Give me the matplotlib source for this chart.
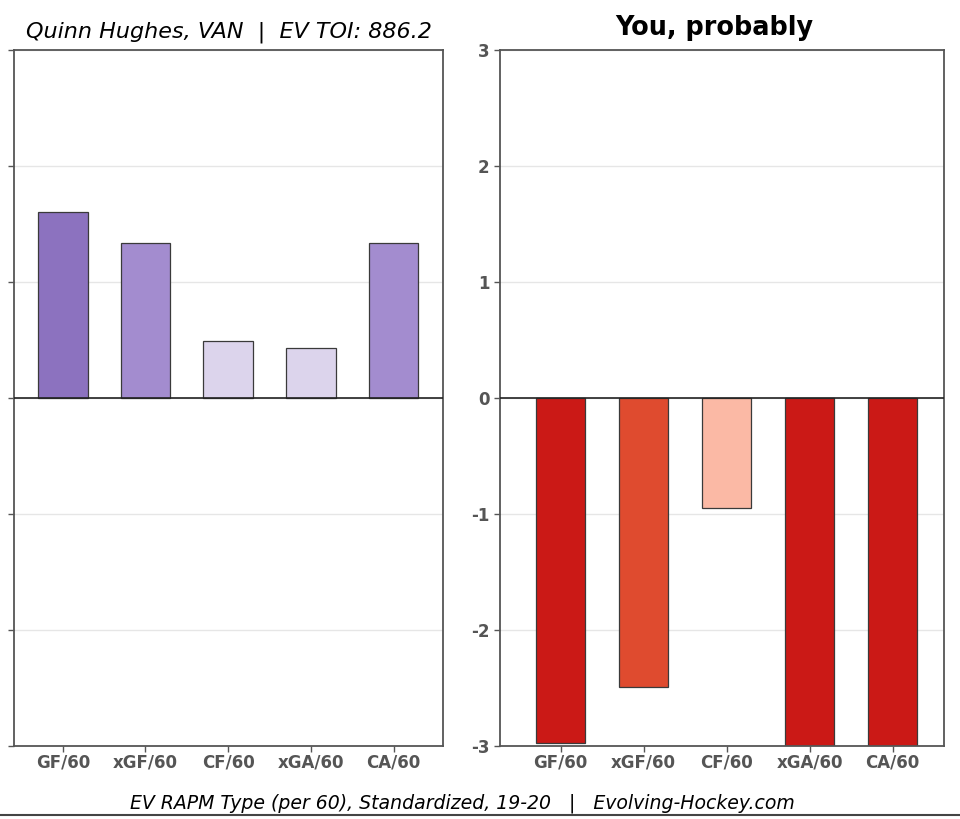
import matplotlib
matplotlib.use("Agg")
import matplotlib.pyplot as plt
from matplotlib.lines import Line2D

# --- DATA ---
metrics = ["GF/60", "xGF/60", "CF/60", "xGA/60", "CA/60"]
player_vals = [1.60, 1.34, 0.49, 0.43, 1.34]
you_vals = [-2.97, -2.49, -0.95, -3.2, -3.2]
player_colors = ["#8c72bf", "#a38ccf", "#dcd4ec", "#dcd4ec", "#a38ccf"]
you_colors = ["#cb1916", "#df4b2f", "#fbb9a5", "#cb1916", "#cb1916"]
y_ticks = [-3, -2, -1, 0, 1, 2, 3]

player_title = "Quinn Hughes, VAN  |  EV TOI: 886.2"
you_title = "You, probably"
footer = "EV RAPM Type (per 60), Standardized, 19-20   |   Evolving-Hockey.com"

SPINE = "#555555"
TICK = "#555555"

fig = plt.figure(figsize=(9.6, 8.19), dpi=100)
ax1 = fig.add_axes([0.0146, 0.0891, 0.447, 0.8498])
ax2 = fig.add_axes([0.5208, 0.0891, 0.4625, 0.8498])


def style(ax, xlim, show_y=True):
    ax.set_ylim(-3, 3)
    ax.set_xlim(*xlim)
    ax.set_yticks(y_ticks)
    # the left panel's y labels sit outside the cropped image
    ax.set_yticklabels([str(t) if show_y else "" for t in y_ticks])
    ax.set_xticks(range(len(metrics)))
    ax.set_xticklabels(metrics)
    ax.grid(axis="y", color="#e6e6e6", linewidth=1)
    ax.set_axisbelow(True)
    ax.axhline(0, color="#222222", linewidth=1.2, zorder=3)
    for s in ax.spines.values():
        s.set_color(SPINE)
        s.set_linewidth(1.3)
    ax.tick_params(colors=TICK, labelsize=12, length=4, width=1)
    ax.tick_params(axis="x", pad=1.5)
    for lab in ax.get_xticklabels() + ax.get_yticklabels():
        lab.set_fontweight("bold")


ax1.bar(range(len(metrics)), player_vals, width=0.6, color=player_colors,
        edgecolor="#3a3a3a", linewidth=0.9, zorder=2)
style(ax1, (-0.59, 4.6), show_y=False)
ax1.set_title(player_title, fontsize=16, fontstyle="italic", pad=9)

ax2.bar(range(len(metrics)), you_vals, width=0.6, color=you_colors,
        edgecolor="#3a3a3a", linewidth=0.9, zorder=2)
style(ax2, (-0.73, 4.62))
ax2.set_title(you_title, fontsize=18.4, fontweight="bold", pad=11, x=0.483)

fig.text(0.482, 0.019, footer, ha="center", va="center", fontsize=13.6,
         fontstyle="italic")
fig.add_artist(Line2D([0, 1], [0.005, 0.005], color="#444444", linewidth=1.5,
                      transform=fig.transFigure))

fig.savefig("out.png", dpi=100)
